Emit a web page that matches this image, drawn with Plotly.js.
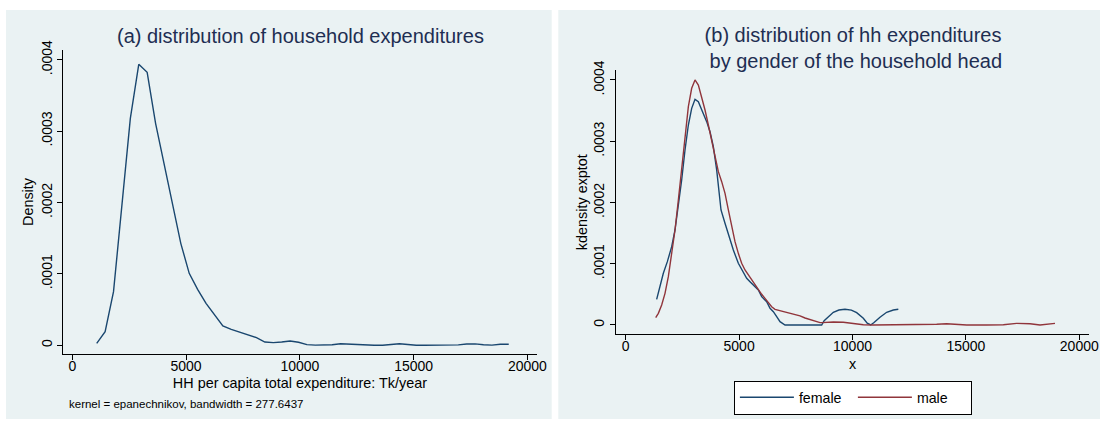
<!DOCTYPE html>
<html>
<head>
<meta charset="utf-8">
<script src="https://cdn.plot.ly/plotly-3.0.1.min.js"></script>
<style>html,body{margin:0;padding:0;background:#fff;}#chart{width:1100px;height:421px;}</style>
</head>
<body>
<div id="chart"></div>
<script>
// ---- data: panel (a) overall kernel density ----
const allX = [1072,1442,1811,2181,2550,2920,3289,3659,4028,4398,4767,5137,5506,5876,6245,6615,6984,7354,7723,8093,8462,8832,9201,9571,9940,10310,10679,11049,11418,11788,12157,12527,12896,13266,13635,14005,14374,14744,15113,15483,15852,16222,16591,16961,17330,17700,18069,18439,18808,19178];
const allDensity = [0.0000028,0.0000191,0.0000751,0.0001942,0.0003179,0.0003935,0.0003823,0.0003109,0.0002549,0.0002035,0.0001428,0.0001008,0.0000784,0.0000588,0.0000424,0.0000270,0.0000224,0.0000186,0.0000144,0.0000107,0.0000046,0.0000037,0.0000046,0.0000060,0.0000042,0.0000009,0.0000002,0.0000000,0.0000008,0.0000022,0.0000017,0.0000004,0.0000000,0.0000000,0.0000000,0.0000011,0.0000022,0.0000011,0.0000000,0.0000000,0.0000000,0.0000000,0.0000000,0.0000006,0.0000018,0.0000020,0.0000008,0.0000003,0.0000014,0.0000014];

// ---- data: panel (b) by gender of household head ----
const femaleX = [1365,1512,1659,1836,2027,2174,2321,2468,2615,2762,2909,3056,3203,3423,3570,3717,3864,4011,4202,4378,4555,4746,4966,5187,5334,5481,5628,5848,5995,6216,6363,6510,6657,6804,7025,7600,8200,8641,8750,8861,9155,9400,9669,9950,10184,10477,10650,10801,10950,11212,11506,11800,12021];
const femaleY = [0.0000419,0.0000626,0.0000844,0.0001034,0.0001279,0.0001551,0.0001932,0.0002367,0.0002857,0.0003265,0.0003537,0.0003684,0.0003646,0.0003456,0.0003320,0.0003156,0.0002912,0.0002531,0.0001878,0.0001660,0.0001442,0.0001224,0.0001007,0.0000844,0.0000762,0.0000707,0.0000653,0.0000571,0.0000463,0.0000381,0.0000272,0.0000218,0.0000136,0.0000054,0,0,0,0,0.0000070,0.0000109,0.0000207,0.0000245,0.0000256,0.0000243,0.0000201,0.0000109,0.0000030,0,0.0000040,0.0000126,0.0000207,0.0000245,0.0000256];
const maleX = [1323,1439,1586,1733,1880,2027,2174,2321,2468,2615,2762,2909,3056,3203,3350,3497,3644,3791,3938,4085,4232,4379,4526,4672,4819,4966,5113,5260,5407,5554,5701,5848,5995,6142,6289,6436,6583,6804,7025,7245,7466,7686,7907,8127,8348,8568,8641,9155,9596,10037,10477,10918,12094,13270,13711,14152,14593,15034,15916,16651,17239,17827,18268,18635,18929];
const maleY = [0.0000120,0.0000190,0.0000327,0.0000517,0.0000789,0.0001170,0.0001551,0.0002041,0.0002585,0.0003102,0.0003565,0.0003864,0.0004000,0.0003918,0.0003728,0.0003510,0.0003265,0.0003020,0.0002721,0.0002503,0.0002340,0.0002150,0.0001878,0.0001605,0.0001361,0.0001170,0.0001007,0.0000898,0.0000816,0.0000735,0.0000653,0.0000571,0.0000501,0.0000435,0.0000365,0.0000299,0.0000256,0.0000234,0.0000207,0.0000190,0.0000169,0.0000150,0.0000114,0.0000090,0.0000054,0.0000038,0.0000038,0.0000049,0.0000044,0.0000021,0.0000005,0,0,0,0.0000011,0.0000021,0.0000011,0,0,0.0000005,0.0000027,0.0000021,0,0.0000021,0.0000027];

// ---- ticks ----
const xTickVals = [0,5000,10000,15000,20000];
const xTickText = ["0","5000","10000","15000","20000"];
const yTickVals = [0,0.0001,0.0002,0.0003,0.0004];
const yTickText = ["0",".0001",".0002",".0003",".0004"];

// ---- text ----
const titleA = "(a) distribution of household expenditures";
const titleB = "(b) distribution of hh expenditures<br> by gender of the household head";
const noteA = "kernel = epanechnikov, bandwidth = 277.6437";

const W = 1100, H = 421;
const px = v => v / W;
const py = v => 1 - v / H;

const FONT = "Liberation Sans, Arial, Helvetica, sans-serif";
const NAVY = "#1A476F", MAROON = "#90353B", BG = "#EAF2F3", TITLE = "#1E2E52";

const traces = [
  {x: allX, y: allDensity, type: "scatter", mode: "lines", xaxis: "x", yaxis: "y",
   line: {color: NAVY, width: 1.4}, showlegend: false, name: "density"},
  {x: femaleX, y: femaleY, type: "scatter", mode: "lines", xaxis: "x2", yaxis: "y2",
   line: {color: NAVY, width: 1.4}, name: "female"},
  {x: maleX, y: maleY, type: "scatter", mode: "lines", xaxis: "x2", yaxis: "y2",
   line: {color: MAROON, width: 1.4}, name: "male"}
];

function xax(domain, range, titleText, standoff) {
  return {domain: domain, range: range, tickmode: "array", tickvals: xTickVals, ticktext: xTickText,
    ticks: "outside", ticklen: 5, tickcolor: "#000", tickwidth: 1, ticklabelstandoff: -6,
    showline: true, linecolor: "#000", linewidth: 1, showgrid: false, zeroline: false,
    tickfont: {family: FONT, size: 14, color: "#000"}, automargin: false,
    title: {text: titleText, font: {family: FONT, size: 14.4, color: "#000"}, standoff: standoff}};
}
function yax(domain, range, anchor, titleText, standoff) {
  return {domain: domain, range: range, anchor: anchor, tickmode: "array", tickvals: yTickVals, ticktext: yTickText,
    ticks: "outside", ticklen: 5, tickcolor: "#000", tickwidth: 1, tickangle: -90,
    showline: true, linecolor: "#000", linewidth: 1, showgrid: true, gridcolor: BG, gridwidth: 1.5, zeroline: false,
    tickfont: {family: FONT, size: 14, color: "#000"}, automargin: false,
    title: {text: titleText, font: {family: FONT, size: 14.4, color: "#000"}, standoff: standoff}};
}

const layout = {
  width: W, height: H,
  margin: {l: 0, r: 0, t: 0, b: 0},
  paper_bgcolor: "#ffffff", plot_bgcolor: "#ffffff",
  font: {family: FONT, color: "#000"},
  xaxis: Object.assign(xax([px(63.3), px(536.5)], [-396, 20398], "HH per capita total expenditure: Tk/year", 5), {anchor: "y"}),
  yaxis: yax([py(354), py(50)], [-0.0000122, 0.0004136], "x", "Density", 1),
  xaxis2: Object.assign(xax([px(616), px(1089)], [-428, 20428], "x", 5), {anchor: "y2"}),
  yaxis2: yax([py(334.3), py(70)], [-0.0000152, 0.0004163], "x2", "kdensity exptot", 0),
  shapes: [
    {type: "rect", xref: "paper", yref: "paper", x0: px(6), x1: px(551.7), y0: py(419), y1: py(10),
     fillcolor: BG, line: {width: 0}, layer: "below"},
    {type: "rect", xref: "paper", yref: "paper", x0: px(558.3), x1: px(1100), y0: py(419), y1: py(10),
     fillcolor: BG, line: {width: 0}, layer: "below"}
  ],
  annotations: [
    {text: titleA, xref: "paper", yref: "paper", x: px(300), y: py(36), xanchor: "center", yanchor: "middle",
     showarrow: false, font: {family: FONT, size: 20, color: TITLE}},
    {text: titleB, xref: "paper", yref: "paper", x: px(853), y: py(47.5), xanchor: "center", yanchor: "middle",
     showarrow: false, font: {family: FONT, size: 20, color: TITLE}},
    {text: noteA, xref: "paper", yref: "paper", x: px(66.7), y: py(404), xanchor: "left", yanchor: "middle",
     showarrow: false, font: {family: FONT, size: 11.5, color: "#000"}}
  ],
  showlegend: true,
  legend: {orientation: "h", x: px(852.9), y: py(380.5), xanchor: "center", yanchor: "top",
    bgcolor: "#ffffff", bordercolor: "#000", borderwidth: 1,
    font: {family: FONT, size: 14.2, color: "#000"}, itemwidth: 54,
    entrywidth: 49, entrywidthmode: "pixels", traceorder: "normal"}
};

Plotly.newPlot("chart", traces, layout, {staticPlot: true, displayModeBar: false});
</script>
</body>
</html>
